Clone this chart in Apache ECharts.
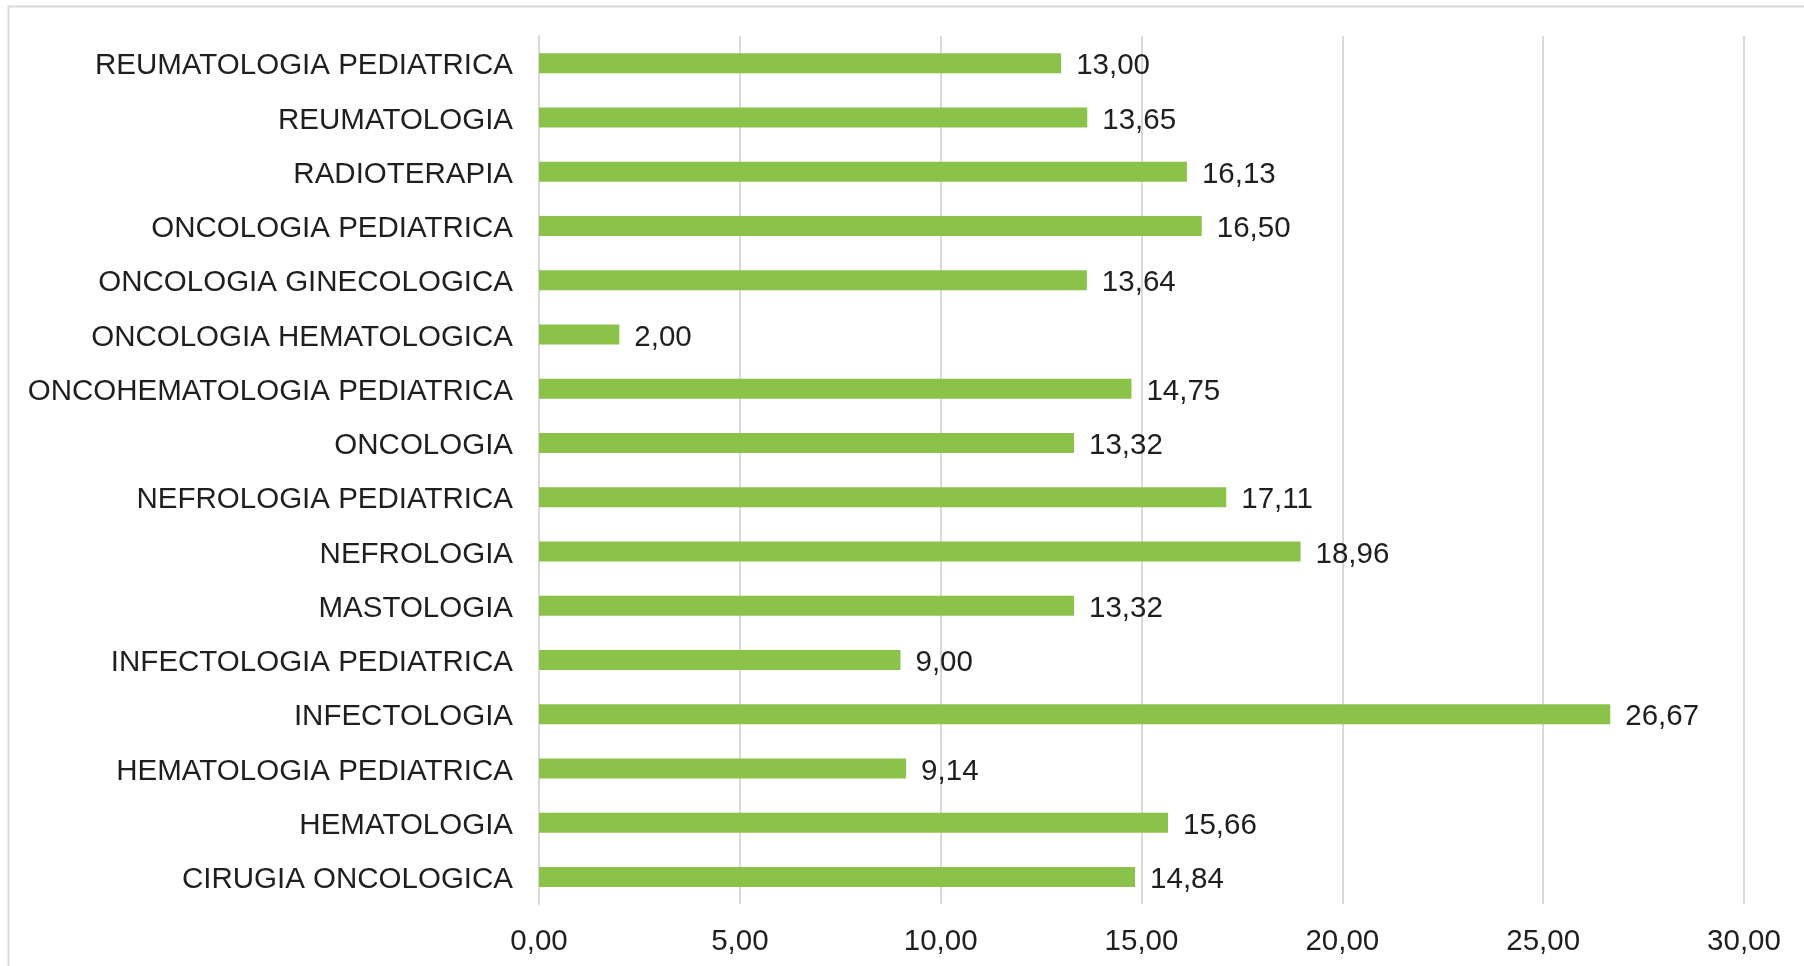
<!DOCTYPE html>
<html>
<head>
<meta charset="utf-8">
<script src="https://cdn.jsdelivr.net/npm/echarts@6/dist/echarts.min.js"></script>
<style>
  html,body{margin:0;padding:0;background:#fff;}
  #chart{width:1804px;height:966px;}
</style>
</head>
<body>
<div id="chart"></div>
<script>
// categories, top to bottom as in the picture
let categories=[
  "REUMATOLOGIA PEDIATRICA",
  "REUMATOLOGIA",
  "RADIOTERAPIA",
  "ONCOLOGIA PEDIATRICA",
  "ONCOLOGIA GINECOLOGICA",
  "ONCOLOGIA HEMATOLOGICA",
  "ONCOHEMATOLOGIA PEDIATRICA",
  "ONCOLOGIA",
  "NEFROLOGIA PEDIATRICA",
  "NEFROLOGIA",
  "MASTOLOGIA",
  "INFECTOLOGIA PEDIATRICA",
  "INFECTOLOGIA",
  "HEMATOLOGIA PEDIATRICA",
  "HEMATOLOGIA",
  "CIRUGIA ONCOLOGICA"
]
let values=[13.00,13.65,16.13,16.50,13.64,2.00,14.75,13.32,17.11,18.96,13.32,9.00,26.67,9.14,15.66,14.84]
let axisMin=0
let axisMax=30
let axisStep=5

function fmt(v){
  return v.toFixed(2).replace(".",",")
}

let myChart=echarts.init(document.getElementById("chart"))
myChart.setOption({
  animation:false,
  textStyle:{fontFamily:"Liberation Sans, Arial, sans-serif"},
  graphic:[{
    type:"rect",
    shape:{x:8.5,y:6.5,width:1900,height:1100},
    style:{fill:"none",stroke:"#d9d9d9",lineWidth:2},
    silent:true
  }],
  grid:{
    left:539,
    right:60,
    top:36,
    bottom:62
  },
  xAxis:{
    type:"value",
    min:axisMin,
    max:axisMax,
    interval:axisStep,
    axisLine:{show:false},
    axisTick:{show:false},
    splitLine:{lineStyle:{color:"#d9d9d9",width:2}},
    axisLabel:{
      color:"#1f1f1f",
      fontSize:29.5,
      margin:23,
      formatter:fmt
    }
  },
  yAxis:{
    type:"category",
    inverse:true,
    data:categories,
    axisLine:{lineStyle:{color:"#d9d9d9",width:2}},
    axisTick:{show:false},
    axisLabel:{
      margin:26,
      formatter:v=>"{a|"+v+"}",
      rich:{
        a:{
          color:"#1f1f1f",
          fontSize:29.5,
          fontFamily:"Liberation Sans, Arial, sans-serif",
          padding:[6,0,0,0]
        }
      }
    }
  },
  series:[{
    type:"bar",
    data:values,
    barWidth:20,
    itemStyle:{color:"#8BC34A"},
    label:{
      show:true,
      position:"right",
      distance:15,
      offset:[0,3],
      color:"#1f1f1f",
      fontSize:29.5,
      formatter:p=>fmt(p.value)
    }
  }]
})
</script>
</body>
</html>
